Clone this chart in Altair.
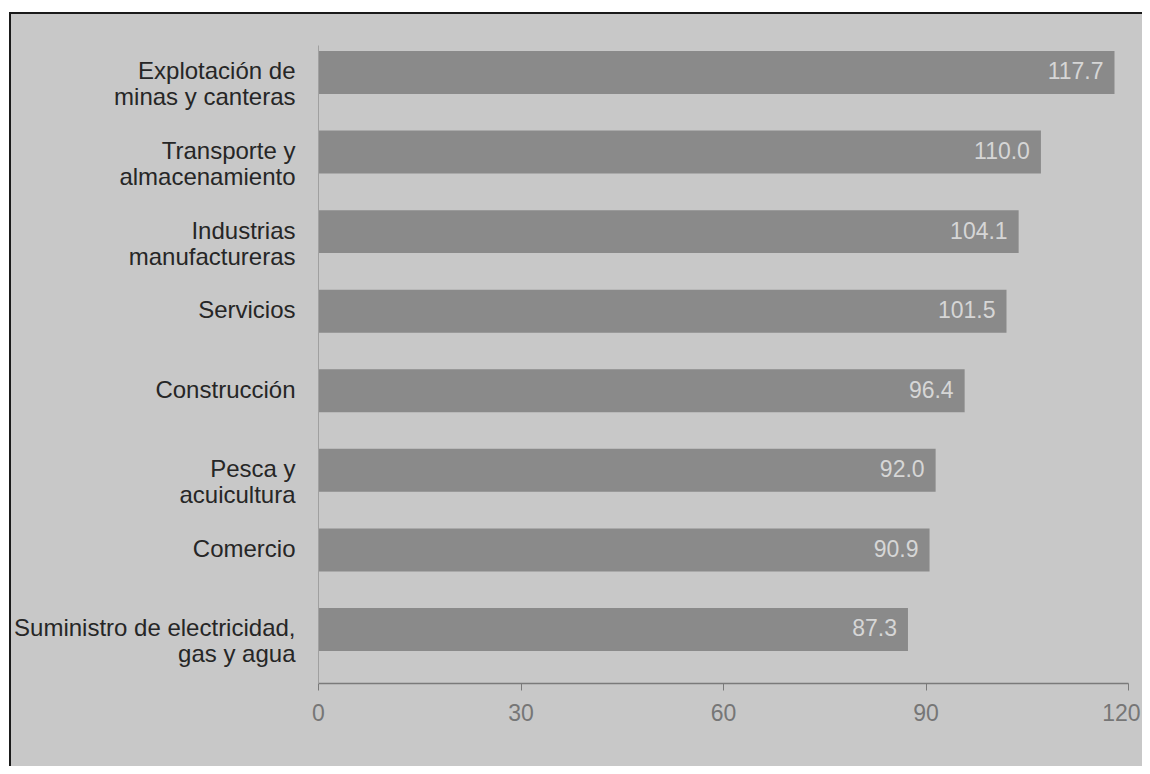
import altair as alt
import pandas as pd

categories = [
    "Explotación de\nminas y canteras",
    "Transporte y\nalmacenamiento",
    "Industrias\nmanufactureras",
    "Servicios",
    "Construcción",
    "Pesca y\nacuicultura",
    "Comercio",
    "Suministro de electricidad,\ngas y agua",
]
# bar lengths as drawn in the picture
bar_lengths = [118.0, 107.1, 103.8, 102.0, 95.8, 91.5, 90.6, 87.4]
# printed values
value_labels = ["117.7", "110.0", "104.1", "101.5", "96.4", "92.0", "90.9", "87.3"]
x_ticks = [0, 30, 60, 90, 120]

df = pd.DataFrame({"cat": categories, "len": bar_lengths, "lab": value_labels})

FONT = "Liberation Sans"
one = pd.DataFrame({"a": [0]})

frame = alt.Chart(one).mark_rect(fill="#c8c8c8").encode(
    x=alt.value(-308), x2=alt.value(840), y=alt.value(-32), y2=alt.value(740)
)
top_line = alt.Chart(one).mark_rule(color="#1a1a1a", strokeWidth=2).encode(
    x=alt.value(-309), x2=alt.value(840), y=alt.value(-32)
)
left_line = alt.Chart(one).mark_rule(color="#1a1a1a", strokeWidth=2).encode(
    x=alt.value(-308), y=alt.value(-33), y2=alt.value(740)
)

y_enc = alt.Y(
    "cat:N",
    sort=None,
    title=None,
    scale=alt.Scale(paddingInner=0.46, paddingOuter=0.239, align=0.158),
    axis=alt.Axis(
        labelExpr="split(datum.label, '\\n')",
        labelFont=FONT,
        labelFontSize=24,
        labelColor="#262626",
        labelLineHeight=26,
        labelPadding=23,
        labelAlign="right",
        labelBaseline="middle",
        ticks=False,
        domainColor="#a0a0a0",
        domainWidth=1,
        labelLimit=400,
        zindex=1,
    ),
)

x_enc = alt.X(
    "len:Q",
    title=None,
    scale=alt.Scale(domain=[0, 120], nice=False, zero=True),
    axis=alt.Axis(
        values=x_ticks,
        grid=False,
        labelFont=FONT,
        labelFontSize=23,
        labelColor="#767676",
        labelPadding=12,
        labelAlign={"condition": {"test": "datum.value == 120", "value": "right"}, "value": "center"},
        labelOffset={"condition": {"test": "datum.value == 120", "value": 12}, "value": 0},
        tickSize=7,
        tickColor="#7a7a7a",
        domainColor="#7a7a7a",
        domainWidth=1.5,
        labelFlush=False,
        zindex=1,
    ),
)

bars = alt.Chart(df).mark_bar(color="#8a8a8a").encode(x=x_enc, y=y_enc)

texts = alt.Chart(df).mark_text(
    align="right", baseline="middle", dx=-11, font=FONT, fontSize=23, color="#d6d6d6"
).encode(x="len:Q", y=alt.Y("cat:N", sort=None), text="lab:N")

chart = alt.layer(frame, top_line, left_line, bars, texts).properties(
    width=810,
    height=638,
    autosize=alt.AutoSizeParams(type="none"),
    padding={"left": 310, "top": 37, "right": 14, "bottom": 83},
    background="white",
).configure_view(stroke=None)

chart.save("out.html", embed_options={"renderer": "svg", "actions": False})
